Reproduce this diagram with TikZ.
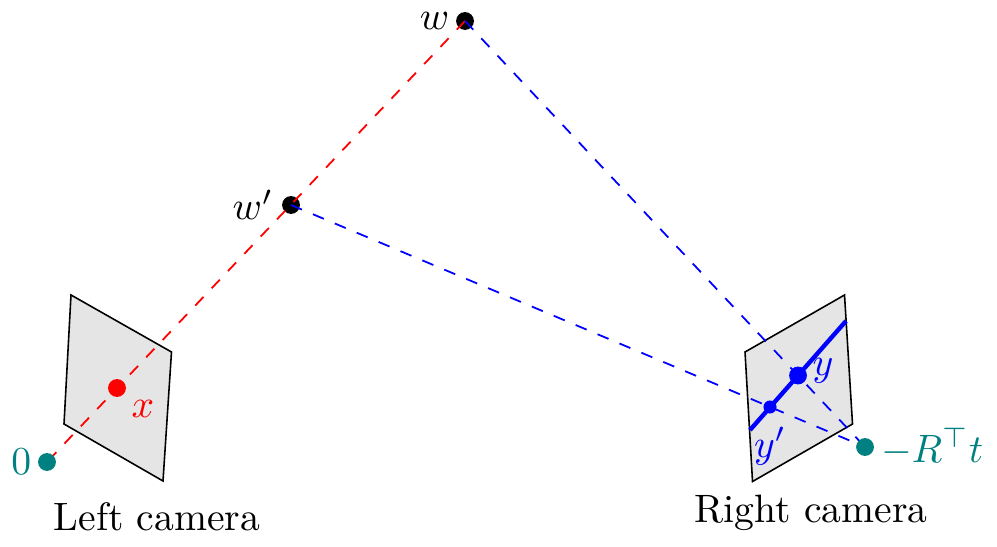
\documentclass[tikz,border=0pt]{standalone}
\usepackage{amsmath,amssymb}
\usetikzlibrary{positioning}
\begin{document}
\begin{tikzpicture}[x=0.2525pt,y=-0.2525pt,
  dot/.style={circle,fill,inner sep=0pt,minimum size=4.5pt},
  smalldot/.style={circle,fill,inner sep=0pt,minimum size=3.3pt},
  plane/.style={draw=black,fill=black!10,line width=0.4pt,line join=miter},
  ray/.style={line width=0.45pt,dash pattern=on 3pt off 3pt}]
\useasboundingbox (0,0) rectangle (997,547);
% planes
\draw[plane] (71,295) -- (171.5,352) -- (163,481) -- (64,424) -- cycle;
\draw[plane] (745,352) -- (844.5,295) -- (852.5,424) -- (752.5,481.5) -- cycle;
% points
\coordinate (O) at (47,462);
\coordinate (W) at (465,21);
\coordinate (Wp) at (291,205);
\coordinate (C) at (865,447);
\coordinate (X) at (117,388);
\coordinate (Y) at (798,375.5);
\coordinate (Yp) at (770,407);
\coordinate (Ea) at (750,430);
\coordinate (Eb) at (846,321);
% dots under the rays
\node[dot,black] (w) at (W) {};
\node[dot,black] (wp) at (Wp) {};
\node[dot,red] (x) at (X) {};
% rays
\draw[ray,red] (W) -- (O);
\draw[ray,blue] (W) -- (C);
\draw[ray,blue] (Wp) -- (C);
% epipolar line
\draw[blue,line width=1.1pt] (Ea) -- (Eb);
% dots over the rays
\node[dot,teal] (o) at (O) {};
\node[dot,teal] (c) at (C) {};
\node[dot,blue] (y) at (Y) {};
\node[smalldot,blue] (yp) at (Yp) {};
% labels
\node[left=-2pt of w] (lw) {$w$};
\node[left=-1.5pt of wp] (lwp) {$w'$};
\node[red] (lx) at (143,409) {$x$};
\node[teal,left=-2pt of o] (lo) {$0$};
\node[teal,anchor=west] (lc) at (867,447) {$-R^{\top}t$};
\node[blue] (ly) at (823,371) {$y$};
\node[blue] (lyp) at (770,446) {$y'$};
\node (lleft) at (157,517) {Left camera};
\node (lright) at (811,513) {Right camera};
\end{tikzpicture}
\end{document}
